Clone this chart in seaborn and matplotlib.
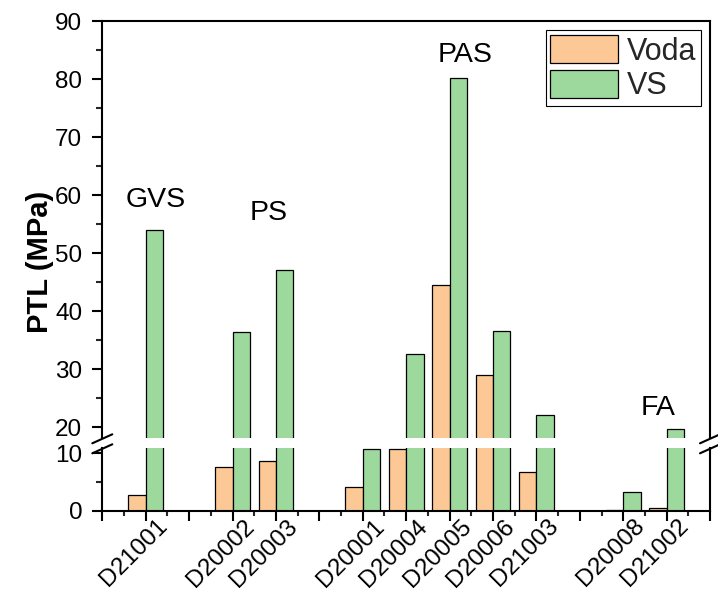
import matplotlib
matplotlib.use("Agg")
import matplotlib.pyplot as plt
from matplotlib.lines import Line2D
from matplotlib.ticker import MultipleLocator, FixedLocator
from matplotlib.transforms import ScaledTranslation
import seaborn as sns
import pandas as pd

# Sample names, grouped by material family
groups = ["GVS", "PS", "PAS", "FA"]
gvs_samples = ["D21001"]
ps_samples = ["D20002", "D20003"]
pas_samples = ["D20001", "D20004", "D20005", "D20006", "D21003"]
fa_samples = ["D20008", "D21002"]

samples = gvs_samples + ps_samples + pas_samples + fa_samples
voda = [2.8, 7.7, 8.7, 4.2, 10.7, 44.5, 29.0, 6.8, 0.15, 0.5]
vs = [54.0, 36.4, 47.2, 10.7, 32.6, 80.2, 36.6, 22.2, 3.3, 19.8]
series = ["Voda", "VS"]
colors = ["#FCC996", "#9DD89D"]

y_ticks_top = [20, 30, 40, 50, 60, 70, 80, 90]
y_ticks_bottom = [0, 10]

# Long-format table for seaborn
df = pd.DataFrame({
    "sample": samples * 2,
    "series": [series[0]] * len(samples) + [series[1]] * len(samples),
    "PTL": voda + vs,
})

# Category order with an empty slot between families
member_lists = [gvs_samples, ps_samples, pas_samples, fa_samples]
order = []
for i, members in enumerate(member_lists):
    if i > 0:
        order.append(" " * i)
    order.extend(members)

sns.set_theme(style="white")
plt.rcParams["font.family"] = ["Liberation Sans", "DejaVu Sans"]

fig = plt.figure(figsize=(7.18, 6.13), dpi=100)
ax_top = fig.add_axes([0.1425, 0.2853, 0.8464, 0.6800])
ax_bot = fig.add_axes([0.1425, 0.1664, 0.8464, 0.1023])

palette = dict(zip(series, colors))
for ax in (ax_top, ax_bot):
    sns.barplot(data=df, x="sample", y="PTL", hue="series", order=order,
                hue_order=series, palette=palette, width=0.8, saturation=1,
                edgecolor="black", linewidth=0.9, ax=ax, legend=(ax is ax_top))
    ax.set_xlim(-1, len(order))
    ax.set_xlabel("")
    ax.set_ylabel("")
    for side in ("left", "right", "top", "bottom"):
        ax.spines[side].set_color("black")
        ax.spines[side].set_linewidth(1.5)

ax_top.set_ylim(18.17, 90)
ax_bot.set_ylim(0, 10.9)
ax_top.spines["bottom"].set_visible(False)
ax_bot.spines["top"].set_visible(False)

ax_top.yaxis.set_major_locator(FixedLocator(y_ticks_top))
ax_top.yaxis.set_minor_locator(MultipleLocator(5))
ax_bot.yaxis.set_major_locator(FixedLocator(y_ticks_bottom))
ax_bot.yaxis.set_minor_locator(MultipleLocator(5))

# x ticks: long tick at every slot, short tick halfway, labels on samples only
slots = list(range(-1, len(order) + 1))
ax_bot.set_xticks(slots)
ax_bot.set_xticklabels([order[s] if 0 <= s < len(order) and order[s].strip() else ""
                        for s in slots],
                       rotation=45, ha="right", va="top", rotation_mode="anchor")
ax_bot.xaxis.set_minor_locator(MultipleLocator(0.5))
ax_top.set_xticks([])
ax_top.tick_params(axis="x", which="both", bottom=False, labelbottom=False)

for ax in (ax_top, ax_bot):
    ax.tick_params(axis="y", which="major", direction="out", length=7.5, width=1.5,
                   labelsize=17.5, left=True, right=False, pad=7, colors="black")
    ax.tick_params(axis="y", which="minor", direction="out", length=4, width=1.5,
                   left=True, right=False)
ax_bot.tick_params(axis="x", which="major", direction="out", length=7, width=1.5,
                   labelsize=17.5, bottom=True, pad=2, colors="black")
ax_bot.tick_params(axis="x", which="minor", direction="out", length=3.5, width=1.5,
                   bottom=True)

# Nudge the rotated sample names so their ends sit just right of each tick
shift = ScaledTranslation(7.5 / 72, 6 / 72, fig.dpi_scale_trans)
for lbl in ax_bot.get_xticklabels():
    lbl.set_transform(lbl.get_transform() + shift)

# Family labels above the bars
label_pos = {"GVS": (0.24, 58.0), "PS": (2.83, 55.7), "PAS": (7.35, 82.9), "FA": (11.81, 22.2)}
for g in groups:
    x, y = label_pos[g]
    ax_top.text(x, y, g, ha="center", va="baseline", fontsize=20.5, color="black")

# Legend
handles, labels = ax_top.get_legend_handles_labels()
ax_top.legend(handles, labels, loc="upper right", fontsize=22, frameon=True,
              fancybox=False, edgecolor="black", framealpha=1,
              handlelength=2.2, handleheight=1.05, handletextpad=0.3,
              labelspacing=0.1, borderpad=0.15, borderaxespad=0.3)
ax_top.get_legend().get_frame().set_linewidth(0.8)

fig.text(0.056, 1 - 262 / 613, "PTL (MPa)", rotation=90, ha="center", va="center",
         fontsize=21, fontweight="bold", color="black")

# Axis-break marks on both vertical spines
W, H = 718, 613
for xc in (102.3, 710.0):
    for yc in (438.8, 448.8):
        fig.add_artist(Line2D([(xc - 10) / W, (xc + 10) / W],
                              [1 - (yc + 4.5) / H, 1 - (yc - 4.5) / H],
                              transform=fig.transFigure, color="black", lw=1.5))

fig.savefig("out.png", dpi=100)
